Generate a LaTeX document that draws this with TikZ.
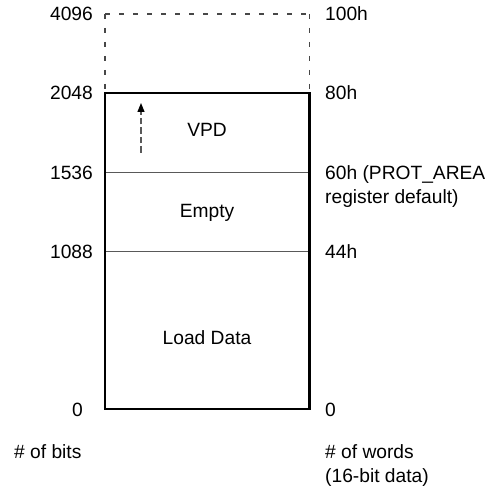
\documentclass[tikz,border=0pt]{standalone}
\usepackage{fontspec}
\setmainfont{Liberation Sans}
\usetikzlibrary{arrows.meta}
\begin{document}
\begin{tikzpicture}[x=1bp,y=-1bp,
  lbl/.style={inner sep=0pt, font=\fontsize{19.2bp}{23.5bp}\selectfont},
  lnum/.style={lbl, anchor=base east},
  rnum/.style={lbl, anchor=base west},
  memframe/.style={line width=2.2bp, black, line join=miter},
  divider/.style={line width=1bp, black!65},
  dashframe/.style={line width=1.1bp, black!72, dash pattern=on 5bp off 9bp},
  growarrow/.style={line width=1.2bp, black!65, dash pattern=on 6.5bp off 3bp,
    -{Triangle[length=9bp,width=7bp,color=black]}}
]
\useasboundingbox (0,0) rectangle (499,486);
% corners
\coordinate (tl) at (105,14);   \coordinate (tr) at (309.5,14);
\coordinate (ul) at (105,93);   \coordinate (ur) at (309.5,93);
\coordinate (ml) at (105,173);  \coordinate (mr) at (309.5,173);
\coordinate (ll) at (105,251);  \coordinate (lr) at (309.5,251);
\coordinate (bl) at (105,409);  \coordinate (br) at (309.5,409);
% dashed upper area
\draw[dashframe] (tl) -- (ul);
\draw[dashframe] (tl) -- (tr);
\draw[dashframe] (tr) -- (ur);
% dividers
\draw[divider] (ml) -- (mr);
\draw[divider] (ll) -- (lr);
% main frame
\draw[memframe] (ul) -- (ur) -- (br) -- (bl) -- cycle;
% growth arrow
\coordinate (a0) at (141,153);
\coordinate (a1) at (141,103);
\draw[growarrow] (a0) -- (a1);
% region labels
\node[lbl] (vpd) at (207,130) {VPD};
\node[lbl] (empty) at (207,213) {Empty};
\node[lbl] (load) at (207,338) {Load Data};
% left values
\node[lnum] (b4096) at (93,21) {4096};
\node[lnum] (b2048) at (93,100) {2048};
\node[lnum] (b1536) at (93,180) {1536};
\node[lnum] (b1088) at (93,258) {1088};
\node[lnum] (b0) at (83,416) {0};
\node[rnum] (bits) at (14,458.5) {\# of bits};
% right values
\node[rnum] (w100) at (325,21) {100h};
\node[rnum] (w80) at (325,100) {80h};
\node[rnum] (w60) at (325,180) {60h (PROT\_AREA};
\node[rnum] (w60b) at (325,203.5) {register default)};
\node[rnum] (w44) at (325,258) {44h};
\node[rnum] (w0) at (325,416) {0};
\node[rnum] (words) at (325,458.5) {\# of words};
\node[rnum] (words2) at (325,482) {(16-bit data)};
\end{tikzpicture}
\end{document}
